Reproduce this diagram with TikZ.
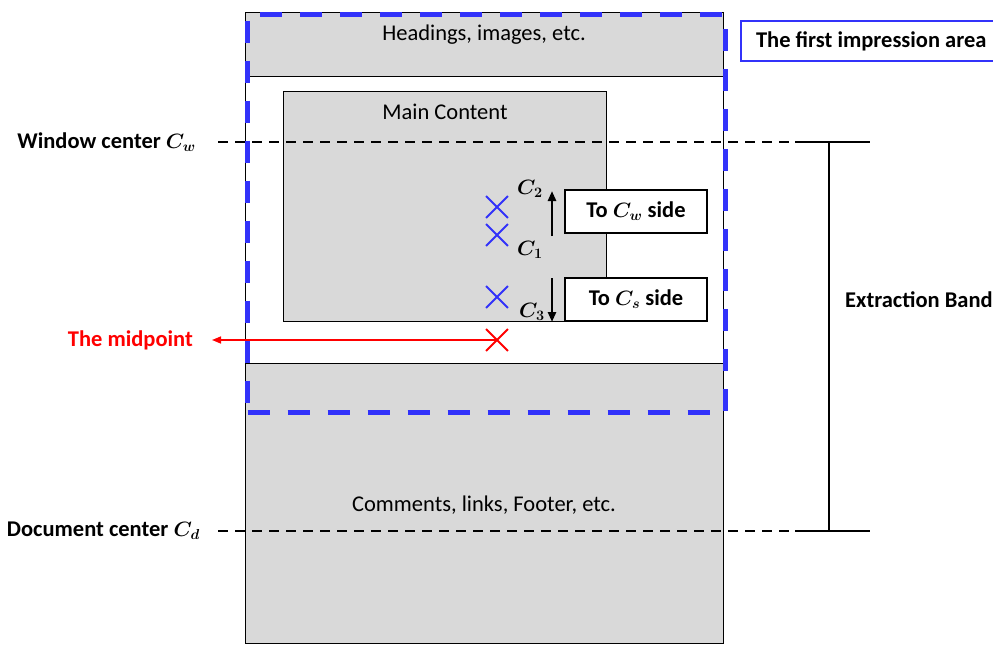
\documentclass[tikz,border=0pt]{standalone}
\usepackage{amsmath}
\usepackage{bm}
\usepackage{fontspec}
\setmainfont{Carlito}
\usetikzlibrary{arrows.meta,shapes.misc}
\definecolor{pagegray}{RGB}{217,217,217}
\definecolor{areablue}{RGB}{50,50,250}
\definecolor{midred}{RGB}{255,0,0}

\begin{document}
\begin{tikzpicture}[
  x=1pt, y=-1pt,
  font=\fontsize{22.5}{26}\selectfont,
  region/.style={draw=black, line width=1.3pt, inner sep=0pt, anchor=north west},
  sidebox/.style={draw=black, fill=white, line width=1.3pt, minimum width=142pt, minimum height=43pt, inner sep=0pt, font=\fontsize{22.5}{26}\selectfont\bfseries},
  xmark/.style={cross out, draw=#1, line width=1.8pt, minimum size=20pt, inner sep=0pt},
  centerline/.style={dash pattern=on 10pt off 7pt, line width=1.8pt},
  band/.style={line width=2.4pt},
  shiftarrow/.style={-{Triangle[length=10pt,width=8pt]}, line width=2.6pt},
  lbl/.style={font=\fontsize{22.5}{26}\selectfont\bfseries}
]
\useasboundingbox (0,0) rectangle (993,645);

% page parts
\node[region, fill=pagegray, minimum width=478pt, minimum height=64pt] (header) at (245,12) {};
\node[region, fill=white, minimum width=478pt, minimum height=287pt] (body) at (245,76) {};
\node[region, fill=pagegray, minimum width=478pt, minimum height=280pt] (footer) at (245,363) {};
\node[region, fill=pagegray, minimum width=323pt, minimum height=230pt] (main) at (283,91) {};
\node (headtext) at (484,35) {Headings, images, etc.};
\node (maintext) at (445,112) {Main Content};
\node (foottext) at (484,505) {Comments, links, Footer, etc.};

% window and document centers
\node[lbl, anchor=east, inner sep=0pt] (wc) at (196,142) {Window center $\bm{C_w}$};
\node[lbl, anchor=east, inner sep=0pt] (dc) at (200,531) {Document center $\bm{C_d}$};
\coordinate (wcend) at (795,142);
\coordinate (dcend) at (795,531);
\draw[centerline] (218,142) -- (wcend);
\draw[centerline] (218,531) -- (dcend);

% extraction band
\coordinate (bandtop) at (829,142);
\coordinate (bandbot) at (829,531);
\draw[band] (wcend) -- (870,142);
\draw[band] (dcend) -- (870,531);
\draw[band] (bandtop) -- (bandbot);
\node[lbl, anchor=west, inner sep=0pt] (bandtext) at (845,300) {Extraction Band};

% candidate centers
\node[xmark=areablue] (c2) at (497,207) {};
\node[xmark=areablue] (c1) at (497,235) {};
\node[xmark=areablue] (c3) at (497,297) {};
\node (c2text) at (530,189) {$\bm{C_2}$};
\node (c1text) at (530,250) {$\bm{C_1}$};
\node (c3text) at (532,312) {$\bm{C_3}$};
\coordinate (upfrom) at (552,236);
\coordinate (upto) at (552,191);
\coordinate (downfrom) at (552,278);
\coordinate (downto) at (552,322);
\draw[shiftarrow] (upfrom) -- (upto);
\draw[shiftarrow] (downfrom) -- (downto);
\node[sidebox] (towin) at (636,211.5) {To $\bm{C_w}$ side};
\node[sidebox] (toscr) at (636,299.5) {To $\bm{C_s}$ side};

% midpoint
\node[xmark=midred] (mid) at (497,340) {};
\coordinate (midend) at (212,340);
\draw[midred, line width=1.5pt, -{Triangle[length=9pt,width=7pt]}] (mid.center) -- (midend);
\node[lbl, text=midred, anchor=east, inner sep=0pt] (midtext) at (193,340) {The midpoint};

% first impression area
\node[region, draw=areablue, line width=5pt, dash pattern=on 22pt off 18pt, minimum width=478pt, minimum height=398pt] (first) at (245,12) {};
\node[lbl, draw=areablue, line width=2.2pt, fill=white, anchor=west, minimum height=40pt, inner xsep=15pt] (firsttext) at (740,41) {The first impression area};
\end{tikzpicture}
\end{document}
